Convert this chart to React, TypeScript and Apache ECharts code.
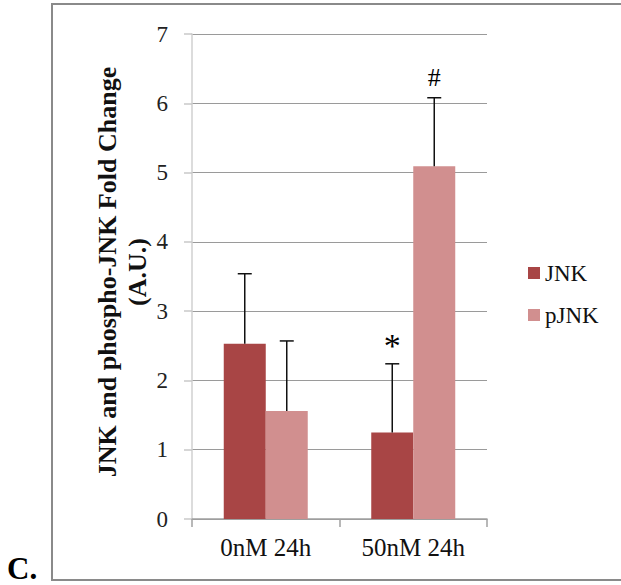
import React, { useEffect, useRef } from "react";
import * as echarts from "echarts";

const categories = ["0nM 24h", "50nM 24h"];
const seriesNames = ["JNK", "pJNK"];
const jnkValues = [2.53, 1.25];
const pjnkValues = [1.56, 5.09];
const jnkErrors = [1.01, 0.99];
const pjnkErrors = [1.01, 0.99];
const jnkMarks = ["", "*"];
const pjnkMarks = ["", "#"];
const yMin = 0;
const yMax = 7;
const yStep = 1;
const yTitle = "JNK and phospho-JNK Fold Change\n(A.U.)";
const panelLabel = "C.";

const COLORS = ["#A84545", "#D18F8F"];
const FONT = "'Liberation Serif', 'Times New Roman', serif";
const BAR_W = 42;
const MARK_STYLE: Record<string, { size: number; gap: number }> = {
  "*": { size: 34, gap: 1 },
  "#": { size: 26, gap: 7 },
};

function errorSeries(name: string, values: number[], errors: number[], marks: string[], offset: number) {
  return {
    type: "custom",
    name: name + " error",
    silent: true,
    z: 5,
    data: values.map((v, i) => [i, v, v + errors[i]]),
    encode: { x: 0, y: [1, 2] },
    renderItem: (params: any, api: any) => {
      const i = api.value(0);
      const base = api.coord([i, api.value(1)]);
      const top = api.coord([i, api.value(2)]);
      const x = base[0] + offset;
      const cap = 7;
      const mark = marks[params.dataIndex];
      const lineStyle = { stroke: "#111", lineWidth: 1.5 };
      const children: any[] = [
        { type: "line", shape: { x1: x, y1: base[1], x2: x, y2: top[1] }, style: lineStyle },
        { type: "line", shape: { x1: x - cap, y1: top[1], x2: x + cap, y2: top[1] }, style: lineStyle },
      ];
      if (mark) {
        const ms = MARK_STYLE[mark] || { size: 26, gap: 7 };
        children.push({
          type: "text",
          x,
          y: top[1] - ms.gap,
          style: {
            text: mark,
            fill: "#000",
            fontSize: ms.size,
            fontFamily: FONT,
            align: "center",
            verticalAlign: "bottom",
          },
        });
      }
      return { type: "group", children };
    },
  };
}

export default function App() {
  const ref = useRef<HTMLDivElement>(null);
  useEffect(() => {
    if (!ref.current) return;
    const chart = echarts.init(ref.current, undefined, { renderer: "svg" });
    chart.setOption({
      animation: false,
      backgroundColor: "#ffffff",
      grid: { left: 192, top: 34, right: 134, bottom: 66, containLabel: false },
      legend: {
        data: seriesNames,
        orient: "vertical",
        left: 528,
        top: 261,
        padding: 0,
        itemWidth: 12,
        itemHeight: 12,
        itemGap: 18,
        icon: "rect",
        textStyle: { fontSize: 23, fontFamily: FONT, color: "#111", lineHeight: 24 },
      },
      xAxis: {
        type: "category",
        data: categories,
        axisLine: { show: true, lineStyle: { color: "#a0a0a0", width: 1.5 } },
        axisTick: { show: true, length: 8, lineStyle: { color: "#a0a0a0", width: 1.5 } },
        axisLabel: { fontSize: 25, fontFamily: FONT, color: "#111", margin: 16 },
      },
      yAxis: {
        type: "value",
        min: yMin,
        max: yMax,
        interval: yStep,
        axisLine: { show: true, lineStyle: { color: "#d0d0d0", width: 1.5 } },
        axisTick: { show: true, length: 8, lineStyle: { color: "#c8c8c8", width: 1.5 } },
        axisLabel: { fontSize: 23, fontFamily: FONT, color: "#222", margin: 24 },
        splitLine: { show: true, lineStyle: { color: "#9a9a9a", width: 1 } },
      },
      graphic: [
        {
          type: "rect",
          shape: { x: 52, y: 4, width: 620, height: 576 },
          style: { fill: "none", stroke: "#8a8a8a", lineWidth: 2 },
          silent: true,
        },
        {
          type: "text",
          x: 122,
          y: 272,
          rotation: Math.PI / 2,
          style: {
            text: yTitle,
            fill: "#111",
            fontSize: 26,
            fontWeight: "bold",
            fontFamily: FONT,
            align: "center",
            verticalAlign: "middle",
            lineHeight: 30,
          },
        },
        {
          type: "text",
          x: 7,
          y: 584,
          style: {
            text: panelLabel,
            fill: "#000",
            fontSize: 31,
            fontWeight: "bold",
            fontFamily: FONT,
            align: "left",
            verticalAlign: "bottom",
          },
        },
      ],
      series: [
        {
          type: "bar",
          name: seriesNames[0],
          data: jnkValues,
          barWidth: BAR_W,
          barGap: "0%",
          itemStyle: { color: COLORS[0] },
        },
        {
          type: "bar",
          name: seriesNames[1],
          data: pjnkValues,
          barWidth: BAR_W,
          barGap: "0%",
          itemStyle: { color: COLORS[1] },
        },
        errorSeries(seriesNames[0], jnkValues, jnkErrors, jnkMarks, -BAR_W / 2),
        errorSeries(seriesNames[1], pjnkValues, pjnkErrors, pjnkMarks, BAR_W / 2),
      ],
    });
    return () => chart.dispose();
  }, []);
  return (
    <div
      ref={ref}
      style={{ position: "absolute", left: 0, top: 0, width: 621, height: 585, background: "#fff" }}
    />
  );
}
